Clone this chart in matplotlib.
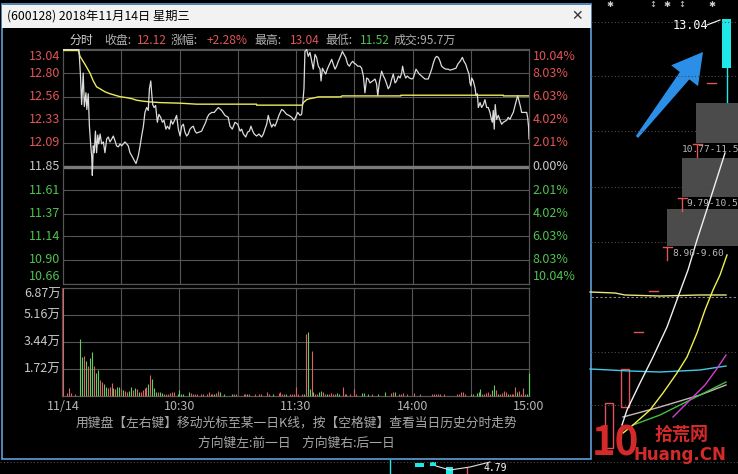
import numpy as np
import matplotlib.pyplot as plt
from matplotlib.patches import Rectangle, Polygon

plt.rcParams['font.family'] = ['Noto Sans CJK SC', 'DejaVu Sans']

W, H = 738, 474

# ---- data ----
pre_close = 11.85
price_levels = [13.04, 12.80, 12.56, 12.33, 12.09, 11.85, 11.61, 11.37, 11.14, 10.90, 10.66]
pct_labels = ['10.04%', '8.03%', '6.03%', '4.02%', '2.01%', '0.00%',
              '2.01%', '4.02%', '6.03%', '8.03%', '10.04%']
vol_levels = [6.87, 5.16, 3.44, 1.72]
vol_labels = ['6.87万', '5.16万', '3.44万', '1.72万']
time_ticks = [0, 60, 120, 180, 240]
time_labels = ['11/14', '10:30', '11:30', '14:00', '15:00']

# (minute from 9:30, price)
price_track = [
    (0, 13.04), (8.2, 13.04), (9.0, 12.78), (9.6, 12.48), (10.4, 12.80), (11.0, 12.46),
    (11.8, 12.60), (12.3, 12.43), (13.0, 12.59), (13.6, 12.26), (14.3, 12.06), (14.8, 11.95),
    (15.1, 11.76), (15.6, 12.06), (16.1, 11.99), (16.7, 12.21), (17.3, 11.99), (17.9, 12.17),
    (18.4, 12.08), (19.1, 12.18), (19.9, 12.08), (20.8, 12.10), (21.6, 11.99), (22.5, 12.13),
    (23.3, 12.15), (24.2, 12.10), (25.1, 12.13), (25.9, 12.16), (26.8, 12.11), (27.6, 12.06),
    (28.5, 12.05), (29.4, 12.08), (30.2, 12.06), (31.1, 12.08), (31.9, 12.10), (32.8, 12.08),
    (33.6, 12.06), (34.5, 11.99), (35.4, 11.96), (36.2, 11.93), (37.6, 11.88), (38.8, 11.96),
    (39.7, 12.06), (40.5, 12.16), (41.4, 12.26), (42.2, 12.40), (43.1, 12.45), (43.9, 12.42),
    (44.5, 12.64), (45.2, 12.72), (45.7, 12.59), (46.2, 12.48), (46.9, 12.45), (47.7, 12.47),
    (48.6, 12.30), (49.4, 12.38), (50.3, 12.35), (51.2, 12.30), (52.0, 12.32), (53.0, 12.23),
    (53.7, 12.26), (54.8, 12.23), (55.6, 12.32), (56.5, 12.28), (57.7, 12.33), (58.5, 12.37),
    (59.4, 12.23), (60.3, 12.16), (61.1, 12.26), (62.0, 12.28), (62.8, 12.20), (63.7, 12.16),
    (64.5, 12.18), (65.4, 12.23), (66.3, 12.25), (67.1, 12.26), (68.0, 12.21), (68.8, 12.19),
    (70.2, 12.20), (71.4, 12.21), (72.3, 12.25), (73.5, 12.30), (74.3, 12.35), (75.2, 12.38),
    (76.6, 12.40), (77.9, 12.40), (79.1, 12.43), (80.0, 12.45), (81.7, 12.42), (83.4, 12.37),
    (85.1, 12.35), (86.0, 12.26), (87.2, 12.23), (88.6, 12.30), (90.0, 12.28), (91.2, 12.21),
    (92.0, 12.23), (92.9, 12.18), (94.1, 12.15), (95.1, 12.20), (96.0, 12.21), (96.8, 12.26),
    (97.7, 12.21), (98.5, 12.18), (99.7, 12.16), (100.9, 12.18), (102.3, 12.15), (103.2, 12.18),
    (104.0, 12.23), (104.9, 12.28), (105.7, 12.37), (106.6, 12.30), (107.5, 12.25), (108.3, 12.28),
    (109.2, 12.26), (110.0, 12.30), (111.2, 12.37), (112.6, 12.43), (113.5, 12.42), (114.3, 12.40),
    (115.2, 12.38), (116.4, 12.37), (117.8, 12.35), (119.0, 12.32), (119.8, 12.35), (120.9, 12.40),
    (122.1, 12.37), (122.9, 12.38), (123.4, 12.48), (124.1, 12.64), (124.6, 13.02), (125.5, 13.04),
    (126.3, 12.97), (127.2, 13.01), (128.1, 12.92), (128.9, 12.84), (129.8, 12.99), (130.6, 12.96),
    (131.5, 12.87), (132.4, 12.84), (132.9, 12.72), (133.6, 12.85), (134.4, 12.82), (135.3, 12.79),
    (136.1, 12.84), (137.5, 12.90), (138.4, 12.94), (139.2, 12.89), (140.1, 12.84), (140.9, 12.87),
    (141.8, 12.92), (142.7, 12.96), (143.9, 13.02), (144.7, 12.99), (145.6, 12.96), (146.6, 12.89),
    (147.5, 12.87), (148.3, 12.90), (149.2, 12.92), (150.0, 12.90), (150.9, 12.89), (151.8, 12.87),
    (153.0, 12.87), (153.8, 12.85), (154.7, 12.77), (155.2, 12.67), (155.5, 12.60), (156.4, 12.75),
    (157.2, 12.74), (158.1, 12.70), (159.5, 12.72), (160.7, 12.74), (161.5, 12.69), (162.1, 12.57),
    (162.9, 12.70), (164.1, 12.82), (165.0, 12.77), (165.8, 12.74), (166.7, 12.69), (167.5, 12.64),
    (168.4, 12.67), (169.3, 12.74), (170.1, 12.79), (171.0, 12.70), (171.8, 12.72), (172.7, 12.77),
    (173.6, 12.75), (174.4, 12.80), (174.9, 12.87), (175.6, 12.80), (176.5, 12.75), (177.3, 12.77),
    (178.4, 12.75), (179.6, 12.74), (180.4, 12.75), (181.8, 12.84), (182.5, 12.82), (183.5, 12.79),
    (184.7, 12.77), (186.4, 12.74), (188.1, 12.74), (189.0, 12.79), (189.9, 12.84), (190.7, 12.90),
    (191.6, 12.95), (192.4, 12.97), (193.3, 12.96), (194.2, 12.92), (195.0, 12.87), (196.2, 12.85),
    (197.2, 12.84), (198.4, 12.84), (199.3, 12.83), (201.0, 12.84), (202.4, 12.85), (203.3, 12.89),
    (204.5, 12.92), (205.7, 12.96), (206.5, 12.92), (207.4, 12.89), (208.2, 12.84), (209.1, 12.79),
    (209.6, 12.70), (210.1, 12.67), (210.5, 12.75), (211.3, 12.72), (212.2, 12.65), (212.7, 12.57),
    (213.4, 12.59), (213.9, 12.45), (214.8, 12.50), (215.6, 12.45), (216.5, 12.48), (217.3, 12.53),
    (218.2, 12.45), (219.0, 12.45), (219.9, 12.40), (220.4, 12.35), (221.1, 12.30), (221.6, 12.42),
    (222.1, 12.23), (222.6, 12.48), (223.3, 12.33), (224.2, 12.37), (225.1, 12.32), (225.9, 12.28),
    (226.8, 12.30), (228.5, 12.32), (229.3, 12.35), (230.2, 12.33), (231.1, 12.37), (231.9, 12.40),
    (232.8, 12.47), (233.6, 12.53), (234.2, 12.57), (234.8, 12.52), (235.7, 12.45), (236.2, 12.40),
    (237.1, 12.40), (238.8, 12.40), (239.3, 12.35), (239.8, 12.25), (240.0, 12.13),
]

# average price line
avg_track = [
    (0, 13.03), (7.9, 13.03), (8.8, 12.97), (11.3, 12.89), (13.9, 12.80), (15.6, 12.72),
    (17.3, 12.66), (19.1, 12.64), (21.6, 12.61), (24.2, 12.59), (26.8, 12.575), (29.4, 12.56),
    (32.8, 12.55), (35.4, 12.54), (37.9, 12.524), (41.4, 12.514), (44.8, 12.507), (49.9, 12.50),
    (60.3, 12.494), (68.8, 12.484), (99.7, 12.484), (99.7, 12.474), (123.2, 12.474),
    (123.8, 12.50), (125.5, 12.53), (127.2, 12.54), (129.8, 12.55), (131.5, 12.558),
    (143.2, 12.558), (143.6, 12.568), (174.0, 12.568), (174.0, 12.575), (226.8, 12.575),
    (226.8, 12.568), (240.0, 12.568),
]

# (minute, volume in 万, 'r' up / 'g' down)
vol_bars = [
    (0, 6.85, 'r'), (2, 0.17, 'r'), (3, 0.53, 'r'), (4, 0.17, 'r'), (6, 0.10, 'r'),
    (9, 3.64, 'g'), (10, 2.51, 'g'), (11, 2.55, 'r'), (12, 2.23, 'g'), (13, 1.91, 'r'),
    (14, 2.40, 'g'), (15, 2.79, 'g'), (16, 1.94, 'r'), (17, 1.45, 'g'), (18, 1.66, 'g'),
    (19, 1.02, 'r'), (20, 0.87, 'r'), (21, 0.77, 'g'), (22, 0.60, 'g'), (23, 0.49, 'r'),
    (24, 0.60, 'r'), (25, 0.81, 'r'), (26, 0.49, 'g'), (27, 0.45, 'r'), (28, 0.55, 'g'),
    (29, 0.60, 'g'), (30, 0.45, 'r'), (31, 0.36, 'g'), (32, 0.32, 'r'), (33, 0.23, 'r'),
    (34, 0.32, 'g'), (35, 0.57, 'g'), (36, 0.38, 'r'), (37, 0.53, 'g'), (38, 0.43, 'r'),
    (39, 0.23, 'g'), (40, 0.28, 'r'), (41, 0.38, 'r'), (42, 0.53, 'r'), (43, 0.60, 'r'),
    (44, 0.79, 'g'), (45, 1.34, 'r'), (46, 1.08, 'g'), (47, 0.49, 'g'), (48, 0.28, 'g'),
    (49, 0.23, 'r'), (50, 0.23, 'g'), (51, 0.17, 'g'), (52, 0.11, 'r'), (53, 0.15, 'r'),
    (54, 0.15, 'r'), (55, 0.17, 'r'), (56, 0.26, 'r'), (57, 0.23, 'r'), (59, 0.10, 'g'),
    (60, 0.36, 'g'), (61, 0.15, 'g'), (62, 0.15, 'g'), (65, 0.28, 'g'), (66, 0.19, 'r'),
    (67, 0.15, 'r'), (68, 0.10, 'r'), (69, 0.10, 'r'), (71, 0.15, 'r'), (72, 0.15, 'r'),
    (74, 0.15, 'r'), (75, 0.23, 'r'), (76, 0.15, 'r'), (77, 0.15, 'r'), (78, 0.15, 'g'),
    (79, 0.19, 'r'), (80, 0.32, 'r'), (81, 0.23, 'g'), (83, 0.15, 'g'), (87, 0.10, 'g'),
    (88, 0.15, 'r'), (89, 0.10, 'r'), (93, 0.10, 'r'), (94, 0.10, 'r'), (95, 0.10, 'g'),
    (96, 0.10, 'r'), (99, 0.10, 'r'), (101, 0.10, 'r'), (102, 0.10, 'r'), (105, 0.23, 'r'),
    (106, 0.10, 'r'), (108, 0.10, 'g'), (111, 0.19, 'r'), (112, 0.26, 'r'), (113, 0.15, 'r'),
    (114, 0.15, 'r'), (115, 0.10, 'g'), (117, 0.10, 'r'), (118, 0.10, 'r'), (119, 0.10, 'r'),
    (120, 0.60, 'r'), (121, 0.10, 'r'), (123, 0.10, 'r'), (124, 0.15, 'g'), (125, 3.93, 'r'),
    (126, 4.10, 'g'), (127, 0.43, 'g'), (128, 2.89, 'r'), (129, 0.23, 'g'), (130, 0.15, 'r'),
    (131, 0.10, 'r'), (132, 0.23, 'g'), (133, 0.34, 'g'), (134, 0.26, 'r'), (135, 0.15, 'r'),
    (136, 0.15, 'g'), (137, 0.15, 'r'), (138, 0.19, 'r'), (139, 0.15, 'r'), (140, 0.15, 'r'),
    (141, 0.19, 'g'), (142, 0.10, 'g'), (144, 0.55, 'r'), (145, 0.10, 'r'), (146, 0.10, 'r'),
    (148, 0.10, 'r'), (150, 0.43, 'r'), (151, 0.10, 'r'), (154, 0.21, 'g'), (155, 0.19, 'g'),
    (157, 0.10, 'g'), (159, 0.10, 'r'), (162, 0.10, 'g'), (166, 0.28, 'g'), (169, 0.19, 'r'),
    (170, 0.23, 'r'), (171, 0.23, 'g'), (173, 0.15, 'r'), (174, 0.10, 'r'), (175, 0.19, 'r'),
    (177, 0.10, 'r'), (181, 0.19, 'r'), (184, 0.10, 'r'), (190, 0.10, 'r'), (191, 0.10, 'r'),
    (192, 0.15, 'r'), (193, 0.15, 'r'), (194, 0.15, 'r'), (196, 0.10, 'r'), (203, 0.10, 'r'),
    (204, 0.15, 'r'), (205, 0.23, 'r'), (206, 0.28, 'r'), (207, 0.10, 'r'), (210, 0.15, 'g'),
    (211, 0.10, 'r'), (213, 0.19, 'g'), (214, 0.28, 'g'), (215, 0.45, 'g'), (216, 0.15, 'r'),
    (217, 0.15, 'r'), (218, 0.19, 'r'), (219, 0.23, 'r'), (220, 0.15, 'r'), (221, 0.36, 'g'),
    (222, 0.70, 'g'), (223, 0.36, 'r'), (224, 0.15, 'g'), (225, 0.15, 'r'), (226, 0.19, 'r'),
    (227, 0.32, 'r'), (228, 0.23, 'r'), (229, 0.15, 'g'), (230, 0.15, 'r'), (231, 0.15, 'r'),
    (232, 0.15, 'r'), (233, 0.57, 'r'), (234, 0.23, 'g'), (235, 0.32, 'r'), (236, 0.15, 'r'),
    (237, 0.49, 'r'), (238, 0.10, 'r'), (239, 0.10, 'g'), (240, 1.45, 'g'),
]

header_items = [
    ('分时', '#d0d0d0'), ('收盘:', '#b0b0b0'), ('12.12', '#e05555'),
    ('涨幅:', '#b0b0b0'), ('+2.28%', '#e05555'), ('最高:', '#b0b0b0'), ('13.04', '#e05555'),
    ('最低:', '#b0b0b0'), ('11.52', '#4ec24e'), ('成交:95.7万', '#b0b0b0'),
]
header_x = [69, 104, 137, 171, 207, 254, 290, 325, 360, 394]

# background K-line panel on the right (pixel positions of the screenshot)
range_boxes = [(696, 103, 143), (682, 158, 197), (667, 209, 246)]
range_labels = ['10.77-11.5', '9.79-10.5', '8.90-9.60']
panel_dotted_y = [22, 76, 131, 187, 242, 352, 405]
ma_white = [(622, 425), (627, 410), (640, 383), (653, 357), (667, 327), (678, 297),
            (688, 270), (697, 240), (710, 200), (725, 153)]
ma_yellow = [(623, 433), (633, 425), (650, 410), (663, 393), (677, 373), (687, 357),
             (697, 333), (705, 310), (713, 290), (720, 275), (727, 255)]
ma_magenta = [(673, 417), (690, 400), (705, 385), (716, 370), (726, 355)]
ma_green = [(633, 425), (660, 415), (690, 400), (710, 390), (726, 382)]
ma_grey = [(623, 417), (660, 407), (700, 395), (726, 385)]
ma_cyan = [(590, 369), (630, 371), (660, 372), (700, 370), (726, 366)]
ma_flat = [(590, 292), (615, 293), (625, 295), (660, 296), (700, 295), (726, 295)]

RED = '#e05555'
GREEN = '#4ec24e'
BAR_RED = '#d86464'
BAR_GREEN = '#62cc62'
NEUTRAL = '#c8c8c8'
GRID = '#555555'

fig = plt.figure(figsize=(W / 100, H / 100), dpi=100, facecolor='black')

bg = fig.add_axes([0, 0, 1, 1])
bg.set_xlim(0, W)
bg.set_ylim(H, 0)
bg.axis('off')
bg.set_facecolor('black')


def px_axes(x0, y0, x1, y1):
    return fig.add_axes([x0 / W, 1 - y1 / H, (x1 - x0) / W, (y1 - y0) / H])


def style_axes(ax):
    ax.set_facecolor('none')
    ax.set_xticks([])
    ax.set_yticks([])
    for s in ax.spines.values():
        s.set_color(GRID)
        s.set_linewidth(0.9)
    for m in range(30, 240, 30):
        ax.axvline(m, color=GRID, lw=0.8, zorder=1)


# ---- right-side panel (behind the popup) ----
for y in panel_dotted_y:
    bg.plot([591, W], [y, y], color='#4a4a4a', lw=0.8, ls=(0, (1, 2)))
bg.plot([591, W], [297, 297], color='#8a8a8a', lw=0.8, ls=(0, (2, 2)))
bg.plot([0, W], [462, 462], color='#4a4a4a', lw=0.8, ls=(0, (1, 2)))

for (x0, y0, y1) in range_boxes:
    bg.add_patch(Rectangle((x0, y0), W - x0, y1 - y0, facecolor='#4b4b4b', edgecolor='none'))
for (x0, y0, y1), lab, dx in zip(range_boxes, range_labels, [-14, 4, 5]):
    bg.text(x0 + dx, y1 + 7, lab, color='#b8b8b8', fontsize=6.8,
            family='DejaVu Sans Mono', va='center', ha='left')
    tx = x0 + 1 if dx < 0 else x0
    bg.plot([tx, tx], [y1 + 1, y1 + 14], color=RED, lw=1)
    bg.plot([tx - 4, tx + 5], [y1 + 1, y1 + 1], color=RED, lw=1)

for pts, col in [(ma_flat, '#e6e67a'), (ma_cyan, '#45c8e8'), (ma_grey, '#c8b8b8'),
                 (ma_green, '#40c040'), (ma_magenta, '#d040d0'),
                 (ma_yellow, '#f0f050'), (ma_white, '#f0f0f0')]:
    xs, ys = zip(*pts)
    bg.plot(xs, ys, color=col, lw=1)

bg.add_patch(Rectangle((605, 403), 8, 45, facecolor='none', edgecolor=RED, lw=1))
bg.add_patch(Rectangle((621, 369), 8, 38, facecolor='none', edgecolor=RED, lw=1))
bg.plot([649, 658], [291, 291], color=RED, lw=1)
bg.plot([634, 643], [332, 332], color=RED, lw=1)
bg.plot([707, 716], [83, 83], color=RED, lw=1)

# cyan limit-up candle
bg.add_patch(Rectangle((722.3, 19), 8.4, 49, facecolor='#1fe8e8', edgecolor='none'))
bg.plot([726.5, 726.5], [68, 102], color='#1fe8e8', lw=1)
bg.text(673, 25, '13.04', color='white', fontsize=8.5, family='DejaVu Sans Mono', va='center')
bg.plot([707, 720], [25, 20], color='white', lw=0.8)

for x, s in [(610, '✱'), (653, '↕'), (667, '✱'), (682, '↕'), (712, '✱')]:
    bg.text(x, 4, s, color='#d0d0d0', fontsize=6, ha='center', va='center', family='DejaVu Sans')

# blue arrow pointing at the candle
tail = np.array([637.0, 137.0])
tip = np.array([703.0, 52.0])
u = (tip - tail) / np.hypot(*(tip - tail))
n = np.array([-u[1], u[0]])
base = tip - 30 * u
arrow_pts = [tip, base + 17 * n, base + 6 * n, tail + 1.5 * n,
             tail - 1.5 * n, base - 6 * n, base - 17 * n]
bg.add_patch(Polygon(arrow_pts, closed=True, facecolor='#2b8fe8', edgecolor='none'))

# watermark
bg.text(615, 444, '10', color='#d42a2a', fontsize=29, fontweight='bold', ha='center', va='center')
bg.text(681, 434, '拾荒网', color='#d42a2a', fontsize=13, fontweight='bold', ha='center', va='center')
bg.text(680, 455, 'Huang.CN', color='#d42a2a', fontsize=12, fontweight='bold',
        ha='center', va='center', family='DejaVu Sans')

# bits of the K-line chart under the popup
bg.plot([390, 390], [460, 474], color='#1fe8e8', lw=1)
bg.add_patch(Rectangle((415, 463), 9, 4, facecolor='#1fe8e8'))
bg.add_patch(Rectangle((430, 462), 6, 4, facecolor='#1fe8e8'))
bg.add_patch(Rectangle((446, 467), 7, 7, facecolor='#1fe8e8'))
bg.plot([467, 467], [468, 474], color=RED, lw=1)
bg.plot([436, 450, 470, 490], [466, 470, 467, 462], color='#e0e0e0', lw=0.8)
bg.text(483, 463, '4.79', color='white', fontsize=7, va='top', family='DejaVu Sans Mono')

# ---- popup window ----
bg.add_patch(Rectangle((1.5, 4), 589.5, 455, facecolor='black', edgecolor='#5f9fdc', lw=1.2))
bg.add_patch(Rectangle((2, 4.5), 588.5, 23, facecolor='#f2f2f2', edgecolor='none'))
bg.text(7, 16, '(600128) 2018年11月14日 星期三', color='black', fontsize=8.8, va='center')
bg.text(577, 16, '✕', color='#333333', fontsize=10, ha='center', va='center', family='DejaVu Sans')

for (txt, col), x in zip(header_items, header_x):
    bg.text(x, 40, txt, color=col, fontsize=8.6, va='center', ha='left')

bg.text(296, 423, '用键盘【左右键】移动光标至某一日K线，按【空格键】查看当日历史分时走势',
        color='#a8a8a8', fontsize=9.2, ha='center', va='center')
bg.text(296, 443, '方向键左:前一日    方向键右:后一日',
        color='#a8a8a8', fontsize=9.2, ha='center', va='center')

# ---- price panel ----
ax = px_axes(63, 49.5, 529, 283.5)
style_axes(ax)
ax.set_xlim(0, 240)
ax.set_ylim(10.66, 13.04)
for i, lv in enumerate(price_levels):
    if lv == pre_close:
        ax.axhline(lv, color='#7a7a7a', lw=2.4, zorder=1)
    else:
        ax.axhline(lv, color=GRID, lw=0.8, zorder=1)
    col = RED if i < 5 else (NEUTRAL if i == 5 else GREEN)
    va = 'top' if i == 0 else ('bottom' if i == len(price_levels) - 1 else 'center')
    ax.text(-0.005, lv, f'{lv:.2f}', color=col, fontsize=9, ha='right', va=va,
            transform=ax.get_yaxis_transform(), clip_on=False)
    ax.text(1.008, lv, pct_labels[i], color=col, fontsize=9, ha='left', va=va,
            transform=ax.get_yaxis_transform(), clip_on=False)

pm, pv = zip(*price_track)
am, av = zip(*avg_track)
ax.plot(am, av, color='#ecec5a', lw=1.0, zorder=3)
ax.plot(pm, pv, color='#dcdcdc', lw=0.9, zorder=4)

# ---- volume panel (left border one pixel out so the 9:30 bar is not hidden) ----
vx = px_axes(62, 288, 529, 396)
style_axes(vx)
vx.set_xlim(-0.5, 240)
vx.set_ylim(0, 6.87)
for i, (lv, lab) in enumerate(zip(vol_levels, vol_labels)):
    if i > 0:
        vx.axhline(lv, color=GRID, lw=0.8, zorder=1)
    vx.text(-0.003, lv, lab, color=NEUTRAL, fontsize=9, ha='right',
            va='top' if i == 0 else 'center', transform=vx.get_yaxis_transform(), clip_on=False)

vm, vv, vd = zip(*vol_bars)
vx.vlines(vm, 0, vv, colors=[BAR_RED if d == 'r' else BAR_GREEN for d in vd],
          lw=0.8, zorder=5, clip_on=False)

for m, lab in zip(time_ticks, time_labels):
    vx.text(m, -0.10, lab, color='#b4b4b4', fontsize=9, ha='center', va='center',
            transform=vx.get_xaxis_transform(), clip_on=False)

fig.savefig('out.png', dpi=100, facecolor='black')
